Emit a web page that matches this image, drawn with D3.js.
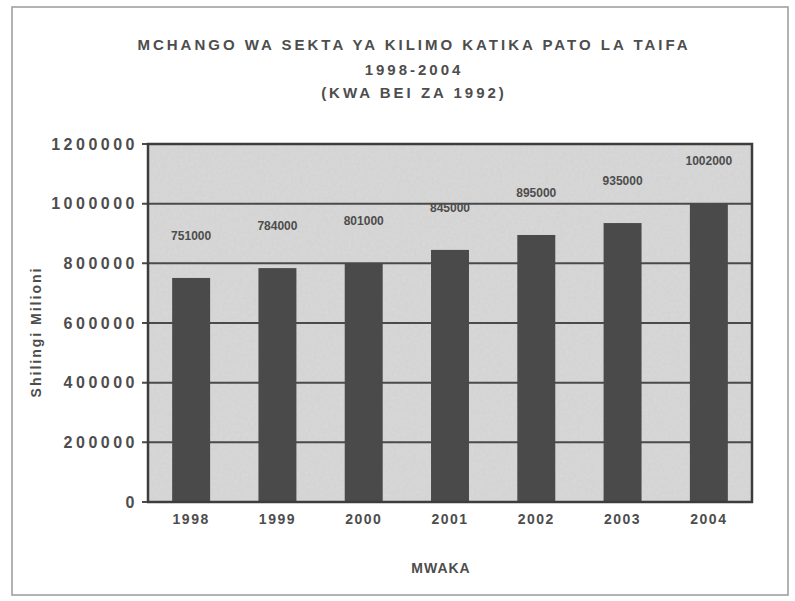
<!DOCTYPE html>
<html>
<head>
<meta charset="utf-8">
<script src="https://cdn.jsdelivr.net/npm/d3@7.9.0/dist/d3.min.js"></script>
<style>
  body { margin: 0; background: #fff; }
  svg { font-family: Arial, "Liberation Sans", sans-serif; }
</style>
</head>
<body>
<svg id="chart" width="795" height="601"></svg>
<script>
// data
const years = ['1998', '1999', '2000', '2001', '2002', '2003', '2004'];
const values = [751000, 784000, 801000, 845000, 895000, 935000, 1002000];
const yTicks = [0, 200000, 400000, 600000, 800000, 1000000, 1200000];
const titleLines = ['MCHANGO WA SEKTA YA KILIMO KATIKA PATO LA TAIFA', '1998-2004', '(KWA BEI ZA 1992)'];

const svg = d3.select('#chart');
const margin = { left: 148, right: 43, top: 144, bottom: 99 };
const W = 795, H = 601;
const ink = '#4d4d4d';

// outer frame of the scanned figure
svg.append('rect')
  .attr('x', 12).attr('y', 7).attr('width', 776).attr('height', 588)
  .attr('fill', 'none').attr('stroke', '#9a9a9a').attr('stroke-width', 1.5);

let x = d3.scaleBand()
  .domain(years)
  .range([margin.left, W - margin.right])
  .paddingInner(0.56).paddingOuter(0.28);

let y = d3.scaleLinear()
  .domain([0, 1200000])
  .range([H - margin.bottom, margin.top]);

// mottled grey plot area
let defs = svg.append('defs');
let filt = defs.append('filter').attr('id', 'grain');
filt.append('feTurbulence').attr('type', 'fractalNoise').attr('baseFrequency', 0.35).attr('numOctaves', 2).attr('seed', 3);
filt.append('feColorMatrix').attr('type', 'matrix')
  .attr('values', '0 0 0 0 0.55  0 0 0 0 0.55  0 0 0 0 0.55  0 0 0 0.35 0');
filt.append('feComposite').attr('in2', 'SourceGraphic').attr('operator', 'in');

svg.append('rect')
  .attr('x', margin.left).attr('y', margin.top)
  .attr('width', W - margin.right - margin.left)
  .attr('height', H - margin.bottom - margin.top)
  .attr('fill', '#d9d9d9');
svg.append('rect')
  .attr('x', margin.left).attr('y', margin.top)
  .attr('width', W - margin.right - margin.left)
  .attr('height', H - margin.bottom - margin.top)
  .attr('fill', '#d9d9d9')
  .attr('filter', 'url(#grain)');

// gridlines
svg.append('g')
  .selectAll('line')
  .data(yTicks)
  .join('line')
  .attr('x1', margin.left - 6).attr('x2', W - margin.right)
  .attr('y1', d => y(d)).attr('y2', d => y(d))
  .attr('stroke', '#4a4a4a').attr('stroke-width', 2);

// bars
svg.append('g')
  .selectAll('rect')
  .data(values)
  .join('rect')
  .attr('x', (d, i) => x(years[i]))
  .attr('width', x.bandwidth())
  .attr('y', d => y(d))
  .attr('height', d => y(0) - y(d))
  .attr('fill', '#4a4a4a');

// data labels (blurred in the scan, sit well above each bar)
svg.append('g')
  .selectAll('text')
  .data(values)
  .join('text')
  .attr('x', (d, i) => x(years[i]) + x.bandwidth() / 2)
  .attr('y', d => y(d) - 38)
  .attr('text-anchor', 'middle')
  .attr('font-size', 12).attr('font-weight', 'bold')
  .attr('fill', ink)
  .text(d => d);

// plot frame
svg.append('rect')
  .attr('x', margin.left).attr('y', margin.top)
  .attr('width', W - margin.right - margin.left)
  .attr('height', H - margin.bottom - margin.top)
  .attr('fill', 'none').attr('stroke', '#3c3c3c').attr('stroke-width', 2.5);

// y axis labels
let yAxis = d3.axisLeft(y).tickValues(yTicks).tickSize(0).tickPadding(10).tickFormat(d => d);
let gy = svg.append('g').attr('transform', `translate(${margin.left},0)`).call(yAxis);
gy.select('.domain').remove();
gy.selectAll('text').attr('font-size', 16).attr('font-weight', 'bold').attr('fill', ink)
  .attr('letter-spacing', 3.5)
  .attr('font-family', 'Arial, "Liberation Sans", sans-serif');

// x axis labels
let xAxis = d3.axisBottom(x).tickSize(0).tickPadding(12);
let gx = svg.append('g').attr('transform', `translate(0,${H - margin.bottom})`).call(xAxis);
gx.select('.domain').remove();
gx.selectAll('text').attr('font-size', 14).attr('font-weight', 'bold').attr('fill', ink)
  .attr('letter-spacing', 1.5)
  .attr('font-family', 'Arial, "Liberation Sans", sans-serif');

// titles
svg.append('g')
  .selectAll('text')
  .data(titleLines)
  .join('text')
  .attr('x', 414)
  .attr('y', (d, i) => [50, 75, 98][i])
  .attr('text-anchor', 'middle')
  .attr('font-size', 15).attr('font-weight', 'bold')
  .attr('letter-spacing', 3)
  .attr('fill', ink)
  .text(d => d);

svg.append('text')
  .attr('transform', 'translate(41,332) rotate(-90)')
  .attr('text-anchor', 'middle')
  .attr('font-size', 14).attr('font-weight', 'bold').attr('fill', ink)
  .attr('letter-spacing', 2)
  .text('Shilingi Milioni');

svg.append('text')
  .attr('x', 441).attr('y', 573)
  .attr('text-anchor', 'middle')
  .attr('font-size', 14).attr('font-weight', 'bold').attr('fill', ink)
  .attr('letter-spacing', 1)
  .text('MWAKA');
</script>
</body>
</html>
